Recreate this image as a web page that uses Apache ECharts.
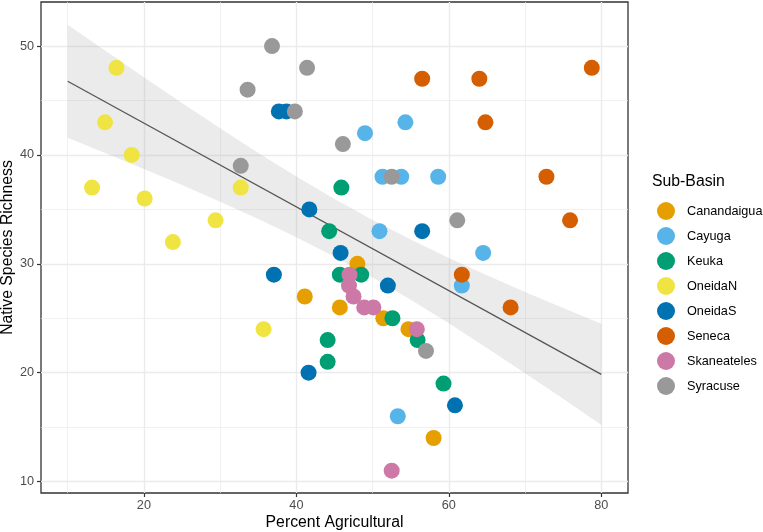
<!DOCTYPE html>
<html>
<head>
<meta charset="utf-8">
<script src="https://cdn.jsdelivr.net/npm/echarts@6/dist/echarts.min.js"></script>
<style>
  html, body { margin: 0; padding: 0; background: #fff; }
  #chart { width: 763px; height: 532px; }
</style>
</head>
<body>
<div id="chart"></div>
<script>
// points per sub-basin: [percent agricultural, native species richness]
var canandaigua = [[48.0,30],[41.1,27],[45.7,26],[51.4,25],[54.7,24],[58.0,14]];
var cayuga = [[49.0,42],[54.3,43],[51.3,38],[53.75,38],[58.6,38],[50.9,33],[64.5,31],[61.7,28],[53.3,16]];
var keuka = [[45.9,37],[44.3,33],[45.7,29],[48.5,29],[52.6,25],[55.9,23],[44.1,23],[44.1,21],[59.3,19]];
var oneidaN = [[16.4,48],[14.9,43],[18.4,40],[13.2,37],[20.1,36],[23.8,32],[29.4,34],[32.7,37],[35.7,24]];
var oneidaS = [[37.7,44],[38.7,44],[41.7,35],[45.8,31],[56.5,33],[52.0,28],[37.05,29],[41.6,20],[60.8,17]];
var seneca = [[56.5,47],[64.0,47],[78.75,48],[64.8,43],[72.8,38],[75.9,34],[61.7,29],[68.1,26]];
var skaneateles = [[46.97,29],[46.9,28],[47.5,27],[48.9,26],[50.1,26],[55.8,24],[52.5,11]];
var syracuse = [[36.8,50],[41.4,48],[33.6,46],[39.8,44],[32.7,39],[46.1,41],[52.5,38],[61.1,34],[57.0,22]];

var basinNames = ['Canandaigua','Cayuga','Keuka','OneidaN','OneidaS','Seneca','Skaneateles','Syracuse'];
var basinData = [canandaigua, cayuga, keuka, oneidaN, oneidaS, seneca, skaneateles, syracuse];
var basinColors = ['#E69F00','#56B4E9','#009E73','#F0E442','#0072B2','#D55E00','#CC79A7','#999999'];

// fitted line and confidence band
var fitX = [10, 80];
var fitY = [46.77, 19.85];
var ciX = [10, 15, 20, 25, 30, 35, 40, 45, 50, 55, 60, 65, 70, 75, 80];
var ciUpper = [51.97, 49.55, 47.14, 44.77, 42.45, 40.18, 38.02, 35.96, 34.02, 32.23, 30.54, 28.94, 27.42, 25.94, 24.50];
var ciLower = [41.57, 40.15, 38.70, 37.23, 35.71, 34.12, 32.44, 30.66, 28.74, 26.69, 24.54, 22.28, 19.96, 17.60, 15.20];

// tick values
var xTicks = [20, 40, 60, 80];
var xMinor = [10, 30, 50, 70];
var yTicks = [10, 20, 30, 40, 50];
var yMinor = [15, 25, 35, 45];

var chart = echarts.init(document.getElementById('chart'));

function gridLines(vals, key, width){
    return vals.map(function(v){
        var o = {lineStyle: {width: width}};
        o[key] = v;
        return o;
    });
}

var series = [];

series.push({
    type: 'line',
    data: [],
    z: 1,
    silent: true,
    markLine: {
        silent: true,
        z: 1,
        symbol: 'none',
        animation: false,
        label: {show: false},
        lineStyle: {color: '#EBEBEB', type: 'solid'},
        data: gridLines(xMinor, 'xAxis', 0.7)
            .concat(gridLines(yMinor, 'yAxis', 0.7))
            .concat(gridLines(xTicks, 'xAxis', 1.4))
            .concat(gridLines(yTicks, 'yAxis', 1.4))
    }
});

series.push({
    type: 'custom',
    z: 2,
    silent: true,
    data: [[ciX[0], ciUpper[0]]],
    renderItem: function(params, api){
        var pts = [];
        for (var i = 0; i < ciX.length; i++) pts.push(api.coord([ciX[i], ciUpper[i]]));
        for (var j = ciX.length - 1; j >= 0; j--) pts.push(api.coord([ciX[j], ciLower[j]]));
        return {
            type: 'polygon',
            shape: {points: pts},
            style: {fill: 'rgba(153,153,153,0.2)'}
        };
    }
});

series.push({
    type: 'line',
    z: 3,
    silent: true,
    symbol: 'none',
    data: [[fitX[0], fitY[0]], [fitX[1], fitY[1]]],
    lineStyle: {color: '#555555', width: 1.3}
});

for (var k = 0; k < basinNames.length; k++){
    series.push({
        name: basinNames[k],
        type: 'scatter',
        z: 5,
        symbolSize: 16,
        data: basinData[k],
        itemStyle: {color: basinColors[k], opacity: 1}
    });
}

chart.setOption({
    animation: false,
    backgroundColor: '#fff',
    title: {
        text: 'Sub-Basin',
        left: 652,
        top: 174,
        padding: 0,
        textStyle: {fontFamily: 'Liberation Sans', fontSize: 15.8, fontWeight: 'normal', color: '#000'}
    },
    legend: {
        data: basinNames,
        orient: 'vertical',
        left: 657,
        top: 202,
        padding: 0,
        itemWidth: 18,
        itemHeight: 18,
        itemGap: 7,
        icon: 'circle',
        textStyle: {fontFamily: 'Liberation Sans', fontSize: 12.7, color: '#000', padding: [0, 0, 0, 7]}
    },
    grid: {
        left: 41, right: 135, top: 2, bottom: 39,
        outerBoundsMode: 'none',
        containLabel: false,
        show: true,
        borderColor: '#333',
        borderWidth: 1.3,
        backgroundColor: 'transparent'
    },
    xAxis: {
        type: 'value',
        min: 6.5,
        max: 83.5,
        name: 'Percent Agricultural',
        nameLocation: 'middle',
        nameGap: 22,
        nameMoveOverlap: false,
        nameTextStyle: {fontFamily: 'Liberation Sans', fontSize: 15.8, color: '#000'},
        axisLine: {show: false},
        axisTick: {show: true, length: 4, lineStyle: {color: '#333', width: 1.2}, customValues: xTicks},
        axisLabel: {margin: 6, fontFamily: 'Liberation Sans', fontSize: 12.7, color: '#4D4D4D', customValues: xTicks},
        splitLine: {show: false}
    },
    yAxis: {
        type: 'value',
        min: 8.95,
        max: 54.05,
        name: 'Native Species Richness',
        nameLocation: 'middle',
        nameGap: 25,
        nameMoveOverlap: false,
        nameTextStyle: {fontFamily: 'Liberation Sans', fontSize: 15.8, color: '#000'},
        axisLine: {show: false},
        axisTick: {show: true, length: 4, lineStyle: {color: '#333', width: 1.2}, customValues: yTicks},
        axisLabel: {margin: 7, fontFamily: 'Liberation Sans', fontSize: 12.7, color: '#4D4D4D', customValues: yTicks},
        splitLine: {show: false}
    },
    series: series
});
</script>
</body>
</html>
